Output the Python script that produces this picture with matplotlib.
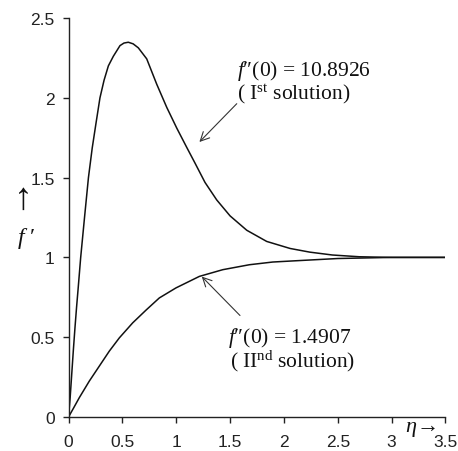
import matplotlib
matplotlib.use("Agg")
import matplotlib.pyplot as plt

# f'(eta) profiles for the two branches of the similarity solution
eta_first = [0, 0.015, 0.03, 0.045, 0.06, 0.075, 0.09, 0.113, 0.15, 0.185, 0.22,
             0.255, 0.292, 0.33, 0.37, 0.416, 0.478, 0.515, 0.555, 0.6, 0.648,
             0.726, 0.819, 0.912, 1.005, 1.097, 1.175, 1.267, 1.376, 1.5, 1.655,
             1.84, 2.057, 2.24, 2.45, 2.7, 3.0, 3.5]
fp_first = [0, 0.12, 0.27, 0.42, 0.56, 0.69, 0.81, 1.0, 1.26, 1.5, 1.685,
            1.84, 2.0, 2.11, 2.2, 2.26, 2.327, 2.343, 2.348, 2.338, 2.313,
            2.244, 2.085, 1.94, 1.81, 1.69, 1.59, 1.47, 1.36, 1.26, 1.17,
            1.10, 1.056, 1.033, 1.015, 1.004, 1.0, 1.0]

eta_second = [0, 0.05, 0.1, 0.193, 0.286, 0.379, 0.472, 0.596, 0.72, 0.843,
              0.998, 1.215, 1.432, 1.679, 1.896, 2.112, 2.5, 3.0, 3.5]
fp_second = [0, 0.06, 0.121, 0.225, 0.319, 0.413, 0.496, 0.59, 0.67, 0.746,
             0.809, 0.881, 0.923, 0.954, 0.971, 0.979, 0.993, 1.0, 1.0]

xticks = [0, 0.5, 1, 1.5, 2, 2.5, 3, 3.5]
xtick_labels = ["0", "0.5", "1", "1.5", "2", "2.5", "3", "3.5"]
yticks = [0, 0.5, 1, 1.5, 2, 2.5]
ytick_labels = ["0", "0.5", "1", "1.5", "2", "2.5"]

plt.rcParams["mathtext.fontset"] = "custom"
plt.rcParams["mathtext.rm"] = "Liberation Serif"
plt.rcParams["mathtext.it"] = "Liberation Serif:italic"

SERIF = ["Liberation Serif", "DejaVu Serif"]
SANS = "Liberation Sans"
INK = "#111111"

fig = plt.figure(figsize=(4.58, 4.52), dpi=100)
ax = fig.add_axes([0.1496, 0.0752, 0.8231, 0.8828])

ax.plot(eta_first, fp_first, color=INK, lw=1.1)
ax.plot(eta_second, fp_second, color=INK, lw=1.1)

ax.set_xlim(0, 3.5)
ax.set_ylim(0, 2.5)
for side in ("top", "right"):
    ax.spines[side].set_visible(False)
for side in ("left", "bottom"):
    ax.spines[side].set_color("#222222")
    ax.spines[side].set_linewidth(1.0)

ax.set_xticks(xticks)
ax.set_xticklabels(xtick_labels, family=SANS, fontsize=12.5, color="#222222")
ax.set_yticks(yticks)
ax.set_yticklabels(ytick_labels, family=SANS, fontsize=12.5, color="#222222")
ax.tick_params(axis="x", direction="out", length=4, width=1, color="#222222", pad=8)
ax.tick_params(axis="y", direction="out", length=4, width=1, color="#222222", pad=6)

# annotations for the two solutions
arrow = dict(arrowstyle="->", color="#333333", lw=0.8,
             mutation_scale=16, shrinkA=0, shrinkB=0)
ax.annotate("", xy=(1.215, 1.723), xytext=(1.562, 1.963), arrowprops=arrow)
ax.annotate("", xy=(1.237, 0.88), xytext=(1.592, 0.636), arrowprops=arrow)

note = dict(family=SERIF, fontsize=15.5, color=INK, va="baseline")
ax.text(1.562, 2.14, r"$f$" + "\u2033(0) = 10.8926", **note)
ax.text(1.562, 1.994, r"( I$^{\rm st}$ solution)", **note)
ax.text(1.481, 0.47, r"$f$" + "\u2033(0) = 1.4907", **note)
ax.text(1.5, 0.318, r"( II$^{\rm nd}$ solution)", **note)

# axis labels drawn with arrows
fig.text(0.050, 0.558, "\u2191", family=SERIF, fontsize=27, ha="center",
         va="center", color=INK)
fig.text(0.058, 0.473, r"$f$" + " \u2032", family=SERIF, fontsize=17,
         ha="center", va="center", color=INK)
ax.text(3.124, -0.0125, r"$\eta$" + "\u2192", family=SERIF, fontsize=16,
        ha="left", va="top", color=INK, clip_on=False)

fig.savefig("out.png", dpi=100)
